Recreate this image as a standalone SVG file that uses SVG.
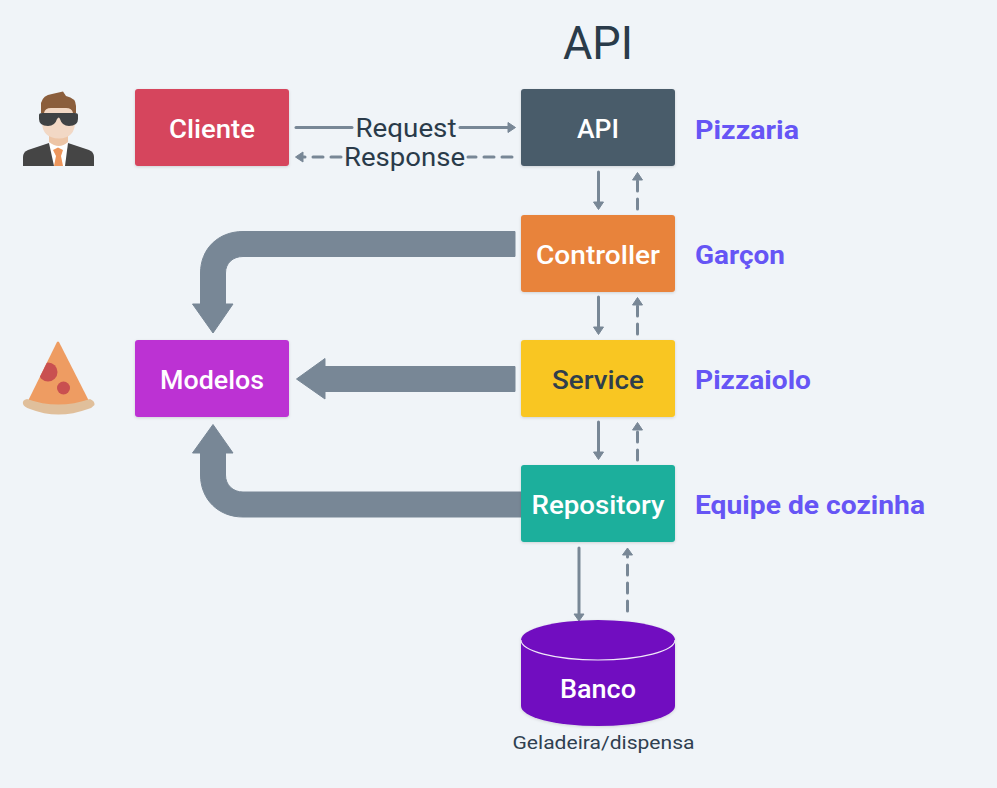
<svg xmlns="http://www.w3.org/2000/svg" width="997" height="788" viewBox="0 0 997 788">
<style>
text{font-family:Roboto,"Noto Sans","Liberation Sans",sans-serif;text-anchor:middle}
.n{font-size:26px;font-weight:500;fill:#fff}
.d{fill:#2f3e4c}
.l{font-size:25px;font-weight:700;fill:#6655f5;text-anchor:start}
.t{font-size:25px;fill:#2a3b4a}
.b{fill:#788796;stroke:#788796;stroke-width:1;stroke-linejoin:round}
.a{fill:none;stroke:#788796;stroke-width:3;stroke-linecap:round}
.da{stroke-dasharray:10 8}
.h{fill:#788796;stroke:#788796;stroke-width:1;stroke-linejoin:round}
</style>
<defs>
<filter id="s" x="-5%" y="-5%" width="110%" height="115%"><feDropShadow dx="0" dy="1" stdDeviation="1.5" flood-color="#000" flood-opacity=".14"/></filter>
<clipPath id="slice"><path d="M57 342Q58 341 59 342L90 403Q58 416 27 403Z"/></clipPath>
</defs>
<rect width="997" height="788" fill="#f0f4f8"/>
<text x="598" y="59" style="font-size:46px;fill:#2a3b4a" textLength="70" lengthAdjust="spacingAndGlyphs">API</text>
<g id="connectors">
<path class="b" d="M515 231.500H243C218 231.500 200.500 249 200.500 273V304H192.500L213 333L233 304H225.500V273C225.500 263 233 256.500 243 256.500H515Z"/>
<path class="b" d="M515 366.500H325V358.500L296.500 379L325 399V391.500H515Z"/>
<path class="b" d="M523 517H243C218 517 200.500 499 200.500 475V453H192.500L213 424.500L233 453H225.500V475C225.500 485 233 492 243 492H523Z"/>
<path class="a" d="M296 127.500H352"/>
<path class="a" d="M460 127.500H510"/>
<path class="h" d="M508 122.500L515.500 127.500L508 132.500Z"/>
<path class="a da" d="M512 157H468"/>
<path class="a da" d="M341 157H303"/>
<path class="h" d="M303 152L295.500 157L303 162Z"/>
<path class="a" d="M598.500 172V203"/>
<path class="h" d="M593.500 202L598.500 209.500L603.500 202Z"/>
<path class="a da" d="M637.500 209V180"/>
<path class="h" d="M632.500 180L637.500 172.500L642.500 180Z"/>
<path class="a" d="M598.500 297V328"/>
<path class="h" d="M593.500 327L598.500 334.500L603.500 327Z"/>
<path class="a da" d="M637.500 334V305"/>
<path class="h" d="M632.500 305L637.500 297.500L642.500 305Z"/>
<path class="a" d="M598.500 422V453"/>
<path class="h" d="M593.500 452L598.500 459.500L603.500 452Z"/>
<path class="a da" d="M637.500 460V431"/>
<path class="h" d="M632.500 430L637.500 422.500L642.500 430Z"/>
<path class="a" d="M579 548V615"/>
<path class="h" d="M574 614L579 621L584 614Z"/>
<path class="a da" d="M627.500 611V556"/>
<path class="h" d="M622.500 555L627.500 548L632.500 555Z"/>
<text class="t" x="406" y="136.500" textLength="101" lengthAdjust="spacingAndGlyphs">Request</text>
<text class="t" x="404.500" y="166" textLength="121" lengthAdjust="spacingAndGlyphs">Response</text>
</g>
<g id="person">
<path d="M23 166V157Q23 152 28 150L49 143H68L89 150Q94 152 94 157V166Z" fill="#454545"/>
<path d="M49 143H68L65 166H54Z" fill="#fff"/>
<path d="M53 150L58 147.500L63 150L61 156L63 166H54L56 156Z" fill="#ed965c"/>
<path d="M49 130H68V142Q59 150 49 142Z" fill="#edc5a6"/>
<path d="M42 106H75V122Q75 138 59 138.500Q42 138 42 122Z" fill="#f2d8c5"/>
<path d="M41 113V103Q43 95 52 94L63 91.500L66 96Q76 98 76 106V113H73Q72 108 66 108H51Q45 108 44 113Z" fill="#8b5e3c"/>
<path d="M39 115Q39 113 42 113H75Q78 113 78 115V119Q78 126 69 126Q62 126 60 119Q59 116 57 119Q55 126 48 126Q39 126 39 119Z" fill="#3f4244"/>
</g>
<g id="pizza">
<path d="M57 342Q58 341 59 342L90 403Q58 416 27 403Z" fill="#ee9c62"/>
<circle cx="48" cy="372" r="9.500" fill="#c95050" clip-path="url(#slice)"/>
<circle cx="63.500" cy="388" r="6.500" fill="#c95050"/>
<path d="M27 399Q58 410 90 399Q95 401 94.500 405Q92 408 88 409Q58 420 30 409Q24 407 23 404Q22 400 27 399Z" fill="#e0bf9b"/>
</g>
<g id="cliente"><rect x="135" y="89" width="154" height="77" rx="3" fill="#d6455d" filter="url(#s)"/><text class="n" x="212" y="137.500" textLength="86" lengthAdjust="spacingAndGlyphs">Cliente</text></g>
<g id="api"><rect x="521" y="89" width="154" height="77" rx="3" fill="#4a5c6b" filter="url(#s)"/><text class="n" x="598" y="137.500" textLength="42" lengthAdjust="spacingAndGlyphs">API</text></g>
<g id="controller"><rect x="521" y="215" width="154" height="77" rx="3" fill="#e8833a" filter="url(#s)"/><text class="n" x="598" y="263.500" textLength="124" lengthAdjust="spacingAndGlyphs">Controller</text></g>
<g id="service"><rect x="521" y="340" width="154" height="77" rx="3" fill="#f9c624" filter="url(#s)"/><text class="n d" x="598" y="388.500" textLength="92" lengthAdjust="spacingAndGlyphs">Service</text></g>
<g id="repository"><rect x="521" y="465" width="154" height="77" rx="3" fill="#1aaf9c" filter="url(#s)"/><text class="n" x="598" y="513.500" textLength="133" lengthAdjust="spacingAndGlyphs">Repository</text></g>
<g id="modelos"><rect x="135" y="340" width="154" height="77" rx="3" fill="#bc33d3" filter="url(#s)"/><text class="n" x="212" y="388.500" textLength="104" lengthAdjust="spacingAndGlyphs">Modelos</text></g>
<g id="banco">
<path d="M521 640A77 20 0 0 1 675 640V706A77 20 0 0 1 521 706Z" fill="#710fc0" filter="url(#s)"/>
<path d="M521 640A77 20 0 0 0 675 640" fill="none" stroke="#f0e8f8" stroke-width="1.200"/>
<text class="n" x="598" y="698" textLength="76" lengthAdjust="spacingAndGlyphs">Banco</text>
<text x="603.500" y="749" style="font-size:19px;fill:#2f4050" textLength="182" lengthAdjust="spacingAndGlyphs">Geladeira/dispensa</text>
</g>
<text class="l" x="695" y="139" textLength="104" lengthAdjust="spacingAndGlyphs">Pizzaria</text>
<text class="l" x="695" y="264" textLength="90" lengthAdjust="spacingAndGlyphs">Garçon</text>
<text class="l" x="695" y="389" textLength="116" lengthAdjust="spacingAndGlyphs">Pizzaiolo</text>
<text class="l" x="695" y="514" textLength="230" lengthAdjust="spacingAndGlyphs">Equipe de cozinha</text>
</svg>
